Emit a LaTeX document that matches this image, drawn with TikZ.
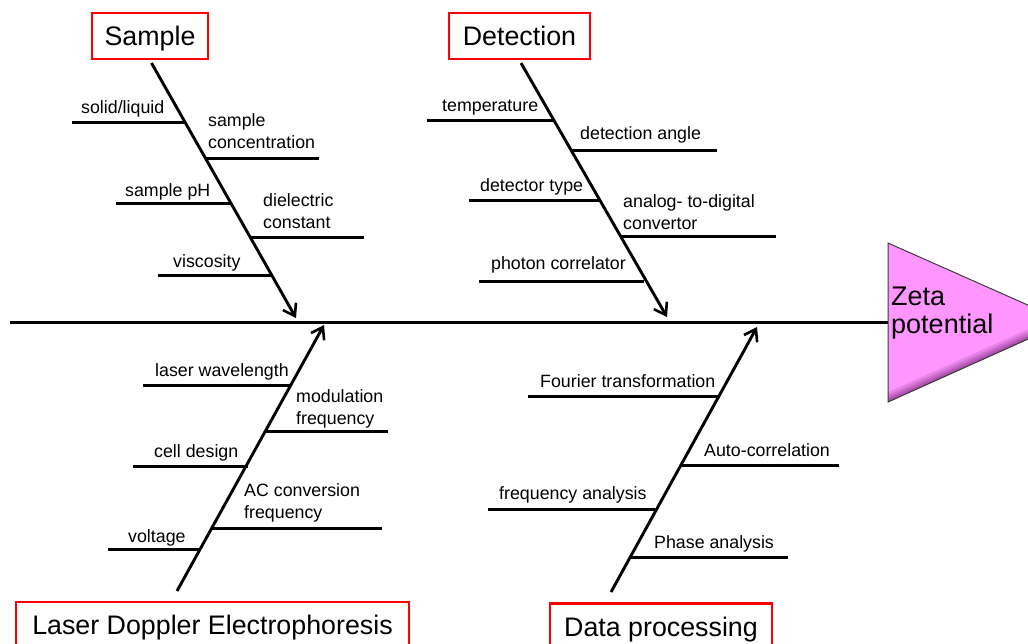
\documentclass[tikz,border=0pt]{standalone}
\usepackage{fontspec}
\setmainfont{Liberation Sans}
\usetikzlibrary{arrows.meta}
\definecolor{zetafill}{RGB}{255,150,255}
\definecolor{zetashade}{RGB}{110,30,110}
\definecolor{zetaedge}{RGB}{60,60,60}
\tikzset{
  bone/.style={line width=2.9pt, -{Straight Barb[length=11pt,width=15pt,line width=2.6pt]}},
  rib/.style={line width=3pt},
  spine/.style={line width=3pt},
  lbl/.style={font=\fontsize{17.8}{21.6}\selectfont, inner sep=0pt, anchor=base west, align=left},
  titlebox/.style={draw=red, line width=2.8pt, font=\fontsize{26.8}{30}\selectfont,
    inner sep=0pt, minimum height=46pt, text height=19.4pt, text depth=0pt},
}
\begin{document}
\begin{tikzpicture}[x=1pt,y=-1pt]
\useasboundingbox (0,0) rectangle (1028,643);
% effect triangle
\coordinate (tA) at (888,243);
\coordinate (tB) at (1066,322);
\coordinate (tC) at (888,402);
\begin{scope}
  \clip (tA) -- (tB) -- (tC) -- cycle;
  \fill[zetafill] (tA) -- (tB) -- (tC) -- cycle;
  \foreach \w in {18,13,9,6,3} {
    \draw[zetashade, opacity=0.16, line width=\w pt] (tC) -- (tB);
  }
\end{scope}
\draw[zetaedge, line width=1pt] (tA) -- (tB) -- (tC) -- cycle;
\node[font=\fontsize{27}{28}\selectfont, inner sep=0pt, anchor=base west, align=left] (zeta) at (891,333) {Zeta\\potential};
% spine
\coordinate (spL) at (10,322);
\draw[spine] (spL) -- (tA |- spL);
% title boxes
\node[titlebox, minimum width=116pt] (sample) at (150,36) {Sample};
\node[titlebox, minimum width=141pt] (detect) at (519.5,36) {Detection};
\node[titlebox, minimum width=393pt] (lde) at (212.5,625) {Laser Doppler Electrophoresis};
\node[titlebox, minimum width=222pt] (data) at (661,626.5) {Data processing};
% bone coordinates
\coordinate (sTip) at (296,318);
\coordinate (dTip) at (667,317);
\coordinate (lStart) at (177,591);
\coordinate (lTip) at (324,325);
\coordinate (pStart) at (611,592);
\coordinate (pTip) at (757,327);
\draw[bone, shorten <=3pt] (sample.south) -- (sTip);
\draw[bone, shorten <=3pt] (detect.south) -- (dTip);
\draw[bone] (lStart) -- (lTip);
\draw[bone] (pStart) -- (pTip);
% Sample ribs
\draw[rib] (72,122.7) -- (185,122.7);
\node[lbl] (s1) at (81,113) {solid/liquid};
\draw[rib] (205,158) -- (319,158);
\node[lbl] (s2) at (208,148) {sample\\concentration};
\draw[rib] (116,203) -- (230,203);
\node[lbl] (s3) at (125,196) {sample pH};
\draw[rib] (250,237) -- (364,237);
\node[lbl] (s4) at (263,228) {dielectric\\constant};
\draw[rib] (158,275) -- (271,275);
\node[lbl] (s5) at (173,267) {viscosity};
% Detection ribs
\draw[rib] (427,120) -- (554,120);
\node[lbl] (d1) at (442,111) {temperature};
\draw[rib] (572,150) -- (717,150);
\node[lbl] (d2) at (580,139) {detection angle};
\draw[rib] (469,200) -- (600,200);
\node[lbl] (d3) at (480,191) {detector type};
\draw[rib] (621,236) -- (776,236);
\node[lbl] (d4) at (623,229) {analog- to-digital\\convertor};
\draw[rib] (479,281) -- (644,281);
\node[lbl] (d5) at (491,269) {photon correlator};
% LDE ribs
\draw[rib] (143,385) -- (291,385);
\node[lbl] (l1) at (155,376) {laser wavelength};
\draw[rib] (265,431) -- (388,431);
\node[lbl] (l2) at (296,424) {modulation\\frequency};
\draw[rib] (133,466) -- (248,466);
\node[lbl] (l3) at (154,457) {cell design};
\draw[rib] (211,528) -- (382,528);
\node[lbl] (l4) at (244,518) {AC conversion\\frequency};
\draw[rib] (108,549) -- (200,549);
\node[lbl] (l5) at (128,542) {voltage};
% Data processing ribs
\draw[rib] (528,396) -- (720,396);
\node[lbl] (p1) at (540,387) {Fourier transformation};
\draw[rib] (680,465) -- (839,465);
\node[lbl] (p2) at (704,456) {Auto-correlation};
\draw[rib] (488,509) -- (655,509);
\node[lbl] (p3) at (499,499) {frequency analysis};
\draw[rib] (630,557) -- (788,557);
\node[lbl] (p4) at (654,548) {Phase analysis};
\end{tikzpicture}
\end{document}
